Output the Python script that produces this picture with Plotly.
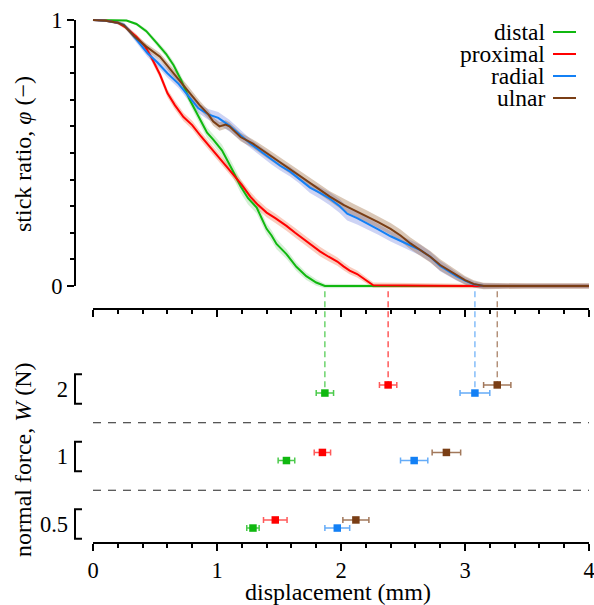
import plotly.graph_objects as go

# ---------------- data ----------------
# stick ratio curves (displacement in mm, stick ratio phi, band half-width)
distal_d = [0, 0.15, 0.27, 0.35, 0.43, 0.52, 0.59, 0.65, 0.71, 0.78, 0.86, 0.92, 0.97, 1.04, 1.12,
            1.19, 1.25, 1.32, 1.40, 1.44, 1.48, 1.56, 1.64, 1.72, 1.80, 1.87, 2.5, 3.0, 3.5, 4.0]
distal_phi = [1.0, 1.0, 0.998, 0.985, 0.958, 0.91, 0.872, 0.83, 0.775, 0.70, 0.63, 0.576, 0.55, 0.51, 0.44,
              0.375, 0.33, 0.295, 0.215, 0.19, 0.158, 0.12, 0.072, 0.037, 0.013, 0.0, 0.0, 0.0, 0.0, 0.0]
distal_sd = [0.003, 0.003, 0.004, 0.006, 0.008, 0.01, 0.012, 0.014, 0.016, 0.018, 0.02, 0.02, 0.02, 0.022, 0.024,
             0.024, 0.024, 0.022, 0.02, 0.02, 0.02, 0.018, 0.016, 0.014, 0.012, 0.008, 0.006, 0.005, 0.005, 0.005]

proximal_d = [0, 0.1, 0.2, 0.27, 0.35, 0.42, 0.47, 0.54, 0.60, 0.66, 0.73, 0.80, 0.87, 0.94, 1.0, 1.07, 1.13, 1.20,
              1.27, 1.33, 1.40, 1.47, 1.56, 1.63, 1.70, 1.77, 1.83, 1.90, 1.97, 2.02, 2.07, 2.13, 2.18, 2.26, 3.0, 4.0]
proximal_phi = [1.0, 0.998, 0.99, 0.97, 0.937, 0.9, 0.86, 0.795, 0.725, 0.68, 0.635, 0.605, 0.563, 0.525, 0.49,
                0.455, 0.42, 0.38, 0.335, 0.305, 0.276, 0.255, 0.226, 0.2, 0.175, 0.15, 0.13, 0.11, 0.092, 0.074,
                0.058, 0.045, 0.028, 0.003, 0.0, 0.0]
proximal_sd = [0.003, 0.004, 0.006, 0.008, 0.01, 0.012, 0.013, 0.014, 0.015, 0.016, 0.016, 0.016, 0.016, 0.016,
               0.016, 0.016, 0.016, 0.016, 0.018, 0.018, 0.018, 0.018, 0.018, 0.018, 0.018, 0.018, 0.018, 0.017,
               0.016, 0.015, 0.014, 0.013, 0.012, 0.01, 0.008, 0.008]

radial_d = [0, 0.1, 0.2, 0.25, 0.3, 0.36, 0.44, 0.52, 0.60, 0.69, 0.77, 0.85, 0.93, 1.01, 1.10, 1.18, 1.27, 1.37,
            1.44, 1.51, 1.59, 1.66, 1.75, 1.83, 1.91, 1.99, 2.05, 2.13, 2.21, 2.30, 2.40, 2.48, 2.56, 2.64, 2.72,
            2.80, 2.87, 2.93, 3.0, 3.07, 3.15, 3.5, 4.0]
radial_phi = [1.0, 0.997, 0.99, 0.982, 0.955, 0.92, 0.875, 0.84, 0.80, 0.76, 0.712, 0.668, 0.645, 0.632, 0.603,
              0.572, 0.535, 0.5, 0.475, 0.452, 0.43, 0.405, 0.37, 0.35, 0.328, 0.3, 0.272, 0.255, 0.236, 0.213,
              0.187, 0.17, 0.154, 0.135, 0.11, 0.075, 0.055, 0.037, 0.02, 0.006, 0.0, 0.0, 0.0]
radial_sd = [0.003, 0.004, 0.006, 0.008, 0.01, 0.012, 0.014, 0.015, 0.016, 0.016, 0.016, 0.018, 0.02, 0.022, 0.022,
             0.02, 0.018, 0.018, 0.018, 0.018, 0.018, 0.018, 0.02, 0.022, 0.024, 0.026, 0.026, 0.024, 0.022, 0.02,
             0.02, 0.02, 0.02, 0.02, 0.02, 0.02, 0.018, 0.016, 0.014, 0.012, 0.01, 0.008, 0.008]

ulnar_d = [0, 0.1, 0.2, 0.25, 0.33, 0.43, 0.54, 0.65, 0.76, 0.86, 0.93, 0.97, 1.02, 1.07, 1.10, 1.19, 1.29, 1.40,
           1.53, 1.66, 1.78, 1.91, 2.02, 2.10, 2.21, 2.30, 2.40, 2.48, 2.56, 2.64, 2.72, 2.80, 2.87, 2.93, 3.0,
           3.07, 3.15, 3.5, 4.0]
ulnar_phi = [1.0, 0.997, 0.99, 0.98, 0.94, 0.90, 0.862, 0.80, 0.74, 0.68, 0.645, 0.618, 0.60, 0.607, 0.60, 0.56,
             0.535, 0.5, 0.46, 0.417, 0.38, 0.336, 0.305, 0.287, 0.262, 0.24, 0.215, 0.19, 0.16, 0.135, 0.11,
             0.079, 0.058, 0.041, 0.022, 0.008, 0.0, 0.0, 0.0]
ulnar_sd = [0.003, 0.004, 0.006, 0.008, 0.01, 0.012, 0.014, 0.015, 0.016, 0.016, 0.016, 0.016, 0.016, 0.016, 0.016,
            0.016, 0.016, 0.018, 0.018, 0.018, 0.018, 0.02, 0.022, 0.022, 0.022, 0.022, 0.022, 0.022, 0.022, 0.022,
            0.022, 0.022, 0.02, 0.018, 0.016, 0.014, 0.012, 0.01, 0.01]

# full-slip displacement per normal force (mean, error)
force_labels = ["0.5", "1", "2"]
force_rows = [0, 1, 2]
slip_distal = [1.29, 1.56, 1.87]
slip_distal_err = [0.05, 0.067, 0.07]
slip_proximal = [1.47, 1.85, 2.38]
slip_proximal_err = [0.095, 0.066, 0.07]
slip_radial = [1.97, 2.59, 3.08]
slip_radial_err = [0.10, 0.11, 0.12]
slip_ulnar = [2.12, 2.85, 3.26]
slip_ulnar_err = [0.105, 0.115, 0.11]

site_names = ["distal", "proximal", "radial", "ulnar"]

# ---------------- styling / layout geometry ----------------
W, H = 594, 605
FONT = "Liberation Serif, Times New Roman, serif"
line_col = {"distal": "#10b810", "proximal": "#ff0000", "radial": "#1380f5", "ulnar": "#7a3e15"}
band_col = {"distal": "rgba(70,180,70,0.22)", "proximal": "rgba(240,110,70,0.35)",
            "radial": "rgba(90,110,220,0.30)", "ulnar": "rgba(150,95,45,0.35)"}
err_col = {"distal": "rgba(16,184,16,0.75)", "proximal": "rgba(255,0,0,0.65)",
           "radial": "rgba(19,128,245,0.65)", "ulnar": "rgba(122,62,21,0.7)"}
dash_col = {"distal": "rgba(16,184,16,0.7)", "proximal": "rgba(255,0,0,0.75)",
            "radial": "rgba(19,128,245,0.6)", "ulnar": "rgba(122,62,21,0.65)"}


def px_x(p):
    return p / W


def px_y(p):
    return 1 - p / H


# x: the y axes sit 18 px left of displacement 0, data span 0..4 mm
x_dom = [px_x(75), px_x(589)]
x_range = [-18 / 124, 4]
# upper panel: phi 0 at 286 px, phi 1 at 20 px, panel runs down to its x axis at 309 px
y1_dom = [px_y(309), px_y(12)]
y1_range = [-23 / 266, 1 + 8 / 266]
# lower panel
y2_dom = [px_y(543), px_y(309)]
y2_range = [-0.2815, 3.185]


def x_paper(v):
    return x_dom[0] + (v - x_range[0]) / (x_range[1] - x_range[0]) * (x_dom[1] - x_dom[0])


def y1_paper(v):
    return y1_dom[0] + (v - y1_range[0]) / (y1_range[1] - y1_range[0]) * (y1_dom[1] - y1_dom[0])


def y2_paper(v):
    return y2_dom[0] + (v - y2_range[0]) / (y2_range[1] - y2_range[0]) * (y2_dom[1] - y2_dom[0])


curves = {
    "distal": (distal_d, distal_phi, distal_sd),
    "proximal": (proximal_d, proximal_phi, proximal_sd),
    "radial": (radial_d, radial_phi, radial_sd),
    "ulnar": (ulnar_d, ulnar_phi, ulnar_sd),
}
slips = {
    "distal": (slip_distal, slip_distal_err, -0.06),
    "proximal": (slip_proximal, slip_proximal_err, 0.06),
    "radial": (slip_radial, slip_radial_err, -0.06),
    "ulnar": (slip_ulnar, slip_ulnar_err, 0.06),
}

fig = go.Figure()

# uncertainty bands
for name in site_names:
    d, phi, sd = curves[name]
    lo = [p - s for p, s in zip(phi, sd)]
    hi = [p + s for p, s in zip(phi, sd)]
    fig.add_trace(go.Scatter(x=d, y=lo, mode="lines", line=dict(width=0), hoverinfo="skip",
                             showlegend=False, xaxis="x", yaxis="y"))
    fig.add_trace(go.Scatter(x=d, y=hi, mode="lines", line=dict(width=0), fill="tonexty",
                             fillcolor=band_col[name], hoverinfo="skip", showlegend=False,
                             xaxis="x", yaxis="y"))

# mean curves
for name in site_names:
    d, phi, sd = curves[name]
    fig.add_trace(go.Scatter(x=d, y=phi, mode="lines", name=name,
                             line=dict(color=line_col[name], width=2),
                             showlegend=False, xaxis="x", yaxis="y"))

# slip displacement markers
for name in site_names:
    vals, errs, off = slips[name]
    fig.add_trace(go.Scatter(
        x=vals, y=[r + off for r in force_rows], mode="markers", name=name, showlegend=False,
        marker=dict(symbol="square", size=7.5, color=line_col[name]),
        error_x=dict(type="data", array=errs, color=err_col[name], thickness=1.5, width=3),
        xaxis="x2", yaxis="y2"))

shapes = []
# axis lines drawn only over the data span
shapes.append(dict(type="line", xref="paper", yref="paper", x0=x_dom[0], x1=x_dom[0],
                   y0=y1_paper(0), y1=y1_paper(1), line=dict(color="black", width=2)))
shapes.append(dict(type="line", xref="paper", yref="paper", x0=x_paper(0), x1=x_paper(4),
                   y0=y1_dom[0], y1=y1_dom[0], line=dict(color="black", width=2)))
shapes.append(dict(type="line", xref="paper", yref="paper", x0=x_paper(0), x1=x_paper(4),
                   y0=y2_dom[0], y1=y2_dom[0], line=dict(color="black", width=2)))
# brackets for lower panel categories
for r in force_rows:
    x0, x1 = x_dom[0], x_dom[0] + px_x(7)
    shapes.append(dict(type="path", xref="paper", yref="paper",
                       path=(f"M {x1},{y2_paper(r - 0.22)} L {x0},{y2_paper(r - 0.22)} "
                             f"L {x0},{y2_paper(r + 0.22)} L {x1},{y2_paper(r + 0.22)}"),
                       line=dict(color="black", width=2)))
# separators between categories
for r in [0.5, 1.5]:
    shapes.append(dict(type="line", xref="paper", yref="paper", x0=x_paper(0), x1=x_paper(4),
                       y0=y2_paper(r), y1=y2_paper(r),
                       line=dict(color="#222222", width=1, dash="8px,7px")))
# dashed drop lines from curves to W = 2 N markers
for name in site_names:
    vals, errs, off = slips[name]
    shapes.append(dict(type="line", xref="paper", yref="paper", x0=x_paper(vals[2]), x1=x_paper(vals[2]),
                       y0=y1_paper(-0.02), y1=y2_paper(force_rows[2] + off),
                       line=dict(color=dash_col[name], width=1.3, dash="6px,4px"), layer="below"))
# legend line samples
legend_y = [32, 54, 76, 98]
for name, yy in zip(site_names, legend_y):
    shapes.append(dict(type="line", xref="paper", yref="paper", x0=px_x(553), x1=px_x(576),
                       y0=px_y(yy), y1=px_y(yy), line=dict(color=line_col[name], width=2)))

annotations = []
for name, yy in zip(site_names, legend_y):
    annotations.append(dict(text=name, xref="paper", yref="paper", x=px_x(547), y=px_y(yy),
                            xanchor="right", yanchor="middle", showarrow=False,
                            font=dict(family=FONT, size=23.5, color="black")))
annotations.append(dict(text="stick ratio, <i>φ</i> (−)", xref="paper", yref="paper",
                        x=px_x(23), y=px_y(154), textangle=-90, xanchor="center", yanchor="middle",
                        showarrow=False, font=dict(family=FONT, size=24, color="black")))
annotations.append(dict(text="normal force, <i>W</i> (N)", xref="paper", yref="paper",
                        x=px_x(23), y=px_y(460), textangle=-90, xanchor="center", yanchor="middle",
                        showarrow=False, font=dict(family=FONT, size=24, color="black")))
annotations.append(dict(text="displacement (mm)", xref="paper", yref="paper",
                        x=px_x(338), y=px_y(592), xanchor="center", yanchor="middle",
                        showarrow=False, font=dict(family=FONT, size=24, color="black")))

tickfont = dict(family=FONT, size=22.5, color="black")
xminor = dict(ticks="outside", tick0=0, dtick=0.2, ticklen=4, tickwidth=1.5, tickcolor="black")

fig.update_layout(
    width=W, height=H, margin=dict(l=0, r=0, t=0, b=0, autoexpand=False),
    paper_bgcolor="white", plot_bgcolor="white",
    font=dict(family=FONT, size=22, color="black"),
    showlegend=False,
    xaxis=dict(domain=x_dom, range=x_range, anchor="y", showline=False, showgrid=False, zeroline=False,
               ticks="outside", tick0=0, dtick=1, ticklen=7, tickwidth=1.5, tickcolor="black",
               minor=xminor, showticklabels=False),
    yaxis=dict(domain=y1_dom, range=y1_range, anchor="x",
               showline=False, showgrid=False, zeroline=False,
               ticks="outside", tickvals=[0, 1], ticktext=["0", "1"], ticklen=7, tickwidth=1.5,
               tickcolor="black",
               minor=dict(ticks="outside", tick0=0, dtick=0.1, ticklen=4, tickwidth=1.5, tickcolor="black"),
               tickfont=tickfont),
    xaxis2=dict(domain=x_dom, range=x_range, anchor="y2", matches="x",
                showline=False, showgrid=False, zeroline=False,
                ticks="outside", tick0=0, dtick=1, ticklen=7, tickwidth=1.5, tickcolor="black",
                minor=xminor, tickfont=tickfont, ticklabeloverflow="allow"),
    yaxis2=dict(domain=y2_dom, range=y2_range, anchor="x2",
                showline=False, showgrid=False, zeroline=False, ticks="",
                tickvals=force_rows, ticktext=force_labels, tickfont=tickfont, ticklabelstandoff=6),
    shapes=shapes, annotations=annotations,
)

fig.write_html("out.html", config={"displayModeBar": False},
               post_script="document.body.style.margin='0';")
